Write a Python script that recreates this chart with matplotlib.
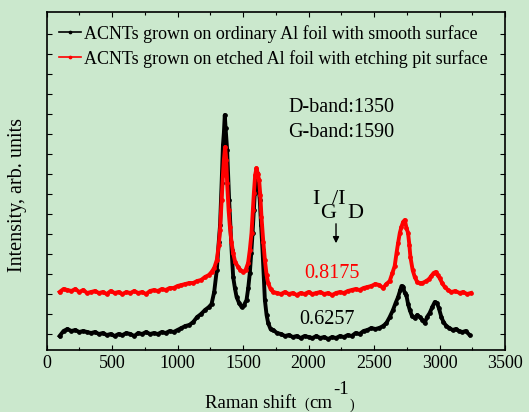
import matplotlib.pyplot as plt
from matplotlib.ticker import MultipleLocator

plt.rcParams['font.family'] = 'Liberation Serif'

# Raman shift (cm-1) and intensity (arb. units)
bx = [100, 130, 160, 190, 220, 250, 280, 310, 340, 370, 400, 430, 460, 490, 520, 550,
      580, 610, 640, 670, 700, 730, 760, 790, 820, 850, 880, 910, 940, 970, 1000, 1030,
      1060, 1090, 1120, 1150, 1180, 1210, 1240, 1260, 1280, 1300, 1315, 1325, 1337, 1347,
      1354, 1361, 1367, 1379, 1394, 1413, 1425, 1438, 1451, 1470, 1489, 1508, 1527, 1540,
      1552, 1563, 1573, 1583, 1590, 1600, 1608, 1618, 1628, 1638, 1649, 1658, 1667, 1680,
      1692, 1710, 1730, 1760, 1790, 1820, 1850, 1880, 1910, 1940, 1970, 2000, 2030, 2060,
      2090, 2120, 2150, 2180, 2210, 2240, 2270, 2300, 2330, 2360, 2390, 2420, 2450, 2480,
      2510, 2540, 2570, 2595, 2620, 2645, 2665, 2684, 2700, 2710, 2722, 2735, 2747, 2760,
      2773, 2790, 2811, 2830, 2849, 2870, 2887, 2905, 2925, 2945, 2964, 2980, 2995, 3014,
      3030, 3052, 3075, 3100, 3125, 3150, 3175, 3200, 3230]
by = [14, 19, 21, 19, 20, 18, 19, 18, 17, 18, 16, 17, 15, 16, 14, 16,
      15, 17, 16, 14, 17, 16, 18, 16, 17, 16, 18, 17, 19, 18, 20, 22,
      24, 25, 28, 33, 36, 40, 43, 46, 58, 80, 108, 125, 167, 205,
      217, 235, 222, 200, 150, 100, 73, 62, 53, 47, 43, 45, 50, 62,
      77, 97, 117, 140, 157, 172, 177, 165, 150, 125, 100, 75, 50, 35,
      27, 21, 20, 17, 16, 14, 15, 13, 14, 12, 14, 13, 12, 14,
      12, 13, 11, 13, 12, 14, 13, 15, 14, 17, 16, 19, 20, 22,
      21, 22, 24, 27, 33, 40, 47, 53, 60, 64, 63, 57, 55, 46,
      40, 34, 32, 35, 33, 30, 27, 33, 37, 43, 48, 47, 42, 33,
      28, 24, 22, 20, 21, 19, 18, 19, 15]

rx = [100, 130, 160, 190, 220, 250, 280, 310, 340, 370, 400, 430, 460, 490, 520, 550,
      580, 610, 640, 670, 700, 730, 760, 790, 820, 850, 880, 910, 940, 970, 1000, 1030,
      1060, 1090, 1120, 1150, 1180, 1210, 1240, 1260, 1280, 1300, 1315, 1325, 1337, 1347,
      1354, 1364, 1372, 1379, 1390, 1400, 1412, 1425, 1440, 1463, 1480, 1501, 1520, 1539,
      1552, 1565, 1575, 1583, 1593, 1603, 1613, 1623, 1632, 1641, 1655, 1667, 1680, 1692,
      1710, 1730, 1760, 1790, 1820, 1850, 1880, 1910, 1940, 1970, 2000, 2030, 2060, 2090,
      2120, 2150, 2180, 2210, 2240, 2270, 2300, 2330, 2360, 2390, 2420, 2450, 2480, 2510,
      2540, 2569, 2595, 2620, 2640, 2658, 2672, 2684, 2697, 2709, 2722, 2735, 2748, 2760,
      2770, 2778, 2795, 2811, 2830, 2849, 2870, 2900, 2920, 2938, 2955, 2971, 2985, 3001,
      3020, 3040, 3065, 3091, 3120, 3154, 3180, 3210, 3240]
ry = [58, 61, 60, 59, 61, 58, 60, 57, 58, 59, 57, 58, 56, 59, 57, 58,
      56, 58, 57, 59, 57, 58, 56, 59, 60, 59, 61, 60, 62, 62, 64, 65,
      66, 67, 67, 69, 70, 73, 75, 78, 82, 90, 105, 120, 150, 175,
      190, 203, 190, 167, 140, 123, 108, 97, 88, 83, 80, 78, 80, 87,
      100, 117, 140, 157, 175, 182, 176, 170, 155, 133, 108, 90, 75, 67,
      61, 58, 57, 56, 58, 56, 57, 55, 57, 56, 58, 56, 57, 58,
      56, 57, 55, 57, 58, 57, 59, 60, 61, 60, 62, 63, 64, 66,
      65, 62, 66, 69, 77, 84, 97, 107, 117, 123, 128, 130, 122, 117,
      105, 93, 80, 73, 68, 67, 67, 69, 71, 74, 77, 78, 75, 72,
      67, 63, 60, 58, 59, 57, 58, 56, 57]

bg = '#cbe8cd'
fig = plt.figure(figsize=(5.29, 4.12), dpi=100, facecolor=bg)
ax = fig.add_axes([46.5/529, 1-350/412, (505-46.5)/529, (350-12)/412])
ax.set_facecolor(bg)

ax.plot(bx, by, '-', color='k', lw=2.8, marker='o', ms=2.4,
        label='ACNTs grown on ordinary Al foil with smooth surface')
ax.plot(rx, ry, '-', color='#ff0000', lw=2.8, marker='o', ms=2.4,
        label='ACNTs grown on etched Al foil with etching pit surface')

ax.set_xlim(0, 3500)
ax.set_ylim(0, 338)
ax.xaxis.set_major_locator(MultipleLocator(500))
ax.xaxis.set_minor_locator(MultipleLocator(250))
ax.set_yticks([16 + 20*k for k in range(16)])
ax.tick_params(axis='both', which='both', direction='in', top=True, right=True, labelsize=13)
ax.tick_params(axis='both', which='major', length=3.5, width=0.8)
ax.tick_params(axis='both', which='minor', length=2.5, width=0.8)
ax.tick_params(axis='y', labelleft=False)
for s in ax.spines.values():
    s.set_linewidth(1.2)

leg = ax.legend(loc='upper left', frameon=False, fontsize=13, handlelength=1.2,
                handletextpad=0.2, markerscale=0.7, borderaxespad=0.3, labelspacing=0.4)
for h in leg.get_lines():
    h.set_linewidth(1.2)

def ft(x, y, s, **kw):
    fig.text(x/529, 1-y/412, s, **kw)

ft(288, 107, 'D-band:1350', fontsize=14.5, va='center')
ft(288, 132, 'G-band:1590', fontsize=14.5, va='center')
ft(312, 200, 'I', fontsize=16, va='center')
ft(320, 213, 'G', fontsize=16, va='center')
ft(332, 200, '/I', fontsize=16, va='center')
ft(347, 213, 'D', fontsize=16, va='center')
ax.annotate('', xy=(2210, 350-246), xytext=(2210, 350-221),
            arrowprops=dict(arrowstyle='-|>', color='k', lw=1, mutation_scale=9))
ft(332, 274, '0.8175', fontsize=14.5, color='#ff0000', ha='center', va='center')
ft(327, 320, '0.6257', fontsize=14.5, ha='center', va='center')

ft(18, 195, 'Intensity, arb. units', fontsize=14.5, rotation=90, ha='center', va='center')
ft(205, 403, 'Raman shift', fontsize=13.5, va='center')
ft(304, 404, '(', fontsize=10, va='center')
ft(309, 403, 'cm', fontsize=13.5, va='center')
ft(333, 390, '-1', fontsize=13.5, va='center')
ft(349, 405, ')', fontsize=10, va='center')

fig.savefig('out.png', dpi=100, facecolor=bg)
